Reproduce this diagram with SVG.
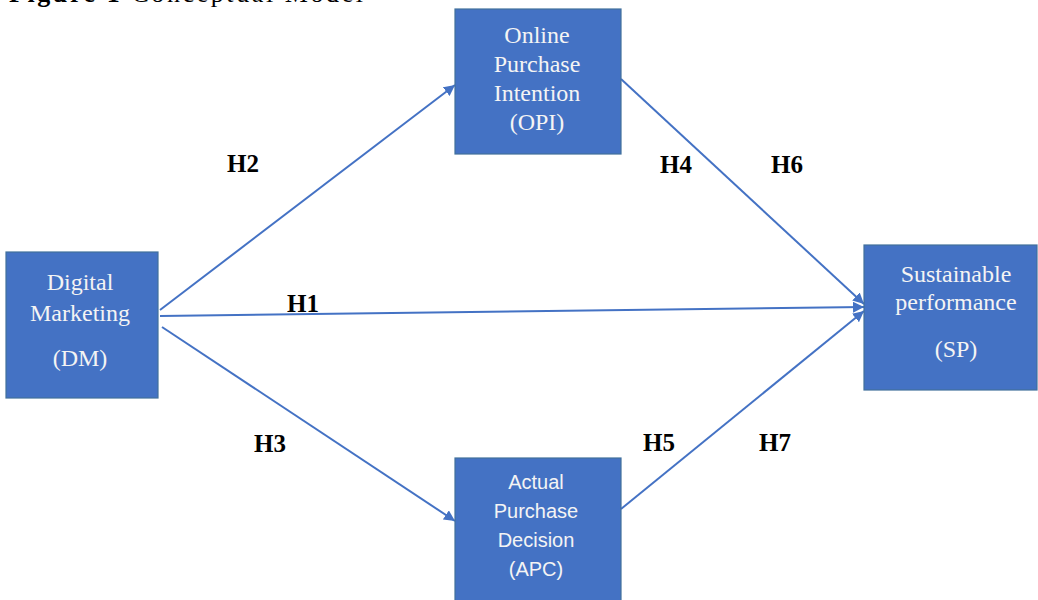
<svg xmlns="http://www.w3.org/2000/svg" width="1038" height="600" viewBox="0 0 1038 600">
  <style>
    .box { fill: #4472C4; stroke: #41719C; stroke-width: 1.2; }
    .serif { font-family: "Liberation Serif", "Times New Roman", serif; font-size: 24px; fill: #F4F4F4; text-anchor: middle; }
    .sans { font-family: "Liberation Sans", Arial, sans-serif; font-size: 20px; fill: #F4F4F4; text-anchor: middle; }
    .lbl { font-family: "Liberation Serif", "Times New Roman", serif; font-size: 25px; font-weight: bold; fill: #000; }
    .conn { stroke: #4472C4; stroke-width: 2; fill: none; marker-end: url(#arrow); }
    .title { font-family: "Liberation Serif", "Times New Roman", serif; font-size: 26px; fill: #000; }
  </style>
  <defs>
    <marker id="arrow" markerUnits="userSpaceOnUse" markerWidth="12" markerHeight="11" refX="11" refY="5.5" orient="auto">
      <path d="M0,0 L11,5.5 L0,11 z" fill="#4472C4"/>
    </marker>
  </defs>
  <rect width="1038" height="600" fill="#FFFFFF"/>

  <text class="title" x="9" y="2" textLength="354" lengthAdjust="spacing"><tspan font-weight="bold">Figure 1</tspan> Conceptual Model</text>

  <g id="connectors">
    <line class="conn" x1="160" y1="310" x2="455" y2="85"/>
    <line class="conn" x1="160" y1="316" x2="864" y2="307"/>
    <line class="conn" x1="162" y1="327" x2="455" y2="521"/>
    <line class="conn" x1="621" y1="79" x2="864" y2="304"/>
    <line class="conn" x1="621" y1="509" x2="864" y2="311"/>
  </g>

  <g id="labels">
    <text class="lbl" x="227" y="172">H2</text>
    <text class="lbl" x="287" y="312">H1</text>
    <text class="lbl" x="254" y="452">H3</text>
    <text class="lbl" x="660" y="173">H4</text>
    <text class="lbl" x="771" y="173">H6</text>
    <text class="lbl" x="643" y="451">H5</text>
    <text class="lbl" x="759" y="451">H7</text>
  </g>

  <g id="node-opi">
    <rect class="box" x="455" y="9" width="166" height="145"/>
    <text class="serif" x="537" y="43">Online</text>
    <text class="serif" x="537" y="72">Purchase</text>
    <text class="serif" x="537" y="101">Intention</text>
    <text class="serif" x="537" y="130">(OPI)</text>
  </g>

  <g id="node-dm">
    <rect class="box" x="6" y="252" width="152" height="146"/>
    <text class="serif" x="80" y="290">Digital</text>
    <text class="serif" x="80" y="321">Marketing</text>
    <text class="serif" x="80" y="366">(DM)</text>
  </g>

  <g id="node-sp">
    <rect class="box" x="864" y="245" width="173" height="145"/>
    <text class="serif" x="956" y="282">Sustainable</text>
    <text class="serif" x="956" y="310">performance</text>
    <text class="serif" x="956" y="357">(SP)</text>
  </g>

  <g id="node-apc">
    <rect class="box" x="455" y="458" width="166" height="150"/>
    <text class="sans" x="536" y="489">Actual</text>
    <text class="sans" x="536" y="518">Purchase</text>
    <text class="sans" x="536" y="547">Decision</text>
    <text class="sans" x="536" y="576">(APC)</text>
  </g>
</svg>
